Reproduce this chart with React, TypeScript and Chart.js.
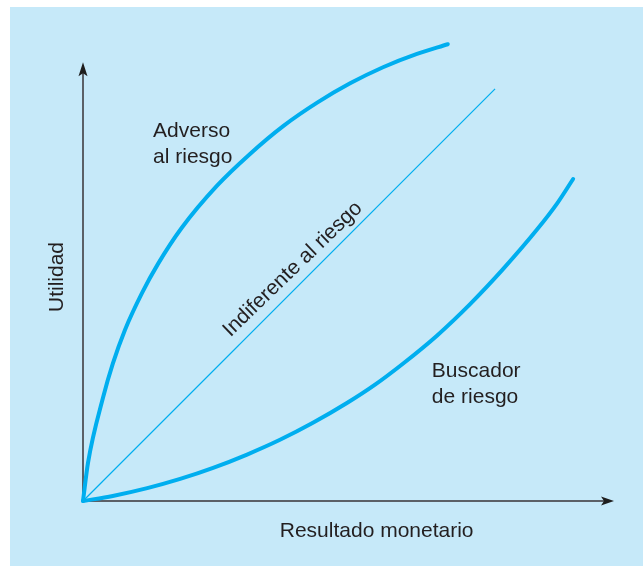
import React, { useEffect, useRef } from "react";
import { Chart, registerables } from "chart.js";

Chart.register(...registerables);

// Data (abstract units: x = monetary result 0..100, y = utility 0..100)
const adverseX = [0, 0.94, 3.8, 5.6, 7.9, 11.1, 14.1, 18.6, 25.2, 31.4, 37.7, 44.1, 50.3, 56.5, 62.9, 68.7];
const adverseY = [0, 8.3, 22.6, 29.8, 37.2, 45.2, 51.5, 59.4, 68.5, 75.4, 81.5, 86.6, 90.8, 94.3, 97.2, 99.3];

const neutralX = [0, 77.6];
const neutralY = [0, 89.6];

const seekerX = [0, 5.6, 12.1, 18.3, 24.5, 30.9, 37.1, 43.3, 49.7, 55.0, 60.3, 66.7, 72.9, 79.1, 85.5, 89.3, 92.3];
const seekerY = [0, 1.1, 2.8, 4.8, 7.2, 10.1, 13.3, 17.0, 21.3, 25.3, 29.9, 36.0, 42.8, 50.4, 59.0, 64.7, 70.0];

const xAxisTitle = "Resultado monetario";
const yAxisTitle = "Utilidad";
const adverseLabel = ["Adverso", "al riesgo"];
const seekerLabel = ["Buscador", "de riesgo"];
const neutralLabel = "Indiferente al riesgo";

const toPoints = (xs: number[], ys: number[]) => xs.map((x, i) => ({ x, y: ys[i] }));

const BG = "#c6e9f9";
const LINE = "#00aeef";
const AXIS = "#5b6067";
const TEXT = "#231f20";
const FONT = '21px "Liberation Sans", Arial, sans-serif';

const decorPlugin = {
  id: "decor",
  beforeDraw(chart: any) {
    const ctx = chart.ctx;
    ctx.save();
    ctx.fillStyle = "#ffffff";
    ctx.fillRect(0, 0, chart.width, chart.height);
    ctx.fillStyle = BG;
    ctx.fillRect(10, 7, chart.width - 10, chart.height - 7);
    ctx.restore();
  },
  beforeDatasetsDraw(chart: any) {
    const ctx = chart.ctx;
    const xs = chart.scales.x;
    const ys = chart.scales.y;
    const ox = xs.getPixelForValue(0);
    const oy = ys.getPixelForValue(0);
    const xTip = xs.getPixelForValue(100);
    const yTip = ys.getPixelForValue(95.4);
    ctx.save();
    ctx.strokeStyle = AXIS;
    ctx.lineWidth = 2;
    ctx.beginPath();
    ctx.moveTo(ox, oy);
    ctx.lineTo(xTip - 10, oy);
    ctx.moveTo(ox, oy);
    ctx.lineTo(ox, yTip + 10);
    ctx.stroke();
    ctx.fillStyle = "#1e1e1e";
    // x arrow
    ctx.beginPath();
    ctx.moveTo(xTip, oy);
    ctx.lineTo(xTip - 13, oy - 4.5);
    ctx.lineTo(xTip - 10, oy);
    ctx.lineTo(xTip - 13, oy + 4.5);
    ctx.closePath();
    ctx.fill();
    // y arrow
    ctx.beginPath();
    ctx.moveTo(ox, yTip);
    ctx.lineTo(ox - 4.5, yTip + 14);
    ctx.lineTo(ox, yTip + 11);
    ctx.lineTo(ox + 4.5, yTip + 14);
    ctx.closePath();
    ctx.fill();
    ctx.restore();
  },
  afterDraw(chart: any) {
    const ctx = chart.ctx;
    const xs = chart.scales.x;
    const ys = chart.scales.y;
    const px = (v: number) => xs.getPixelForValue(v);
    const py = (v: number) => ys.getPixelForValue(v);
    ctx.save();
    ctx.fillStyle = TEXT;
    ctx.font = FONT;
    ctx.textBaseline = "alphabetic";
    ctx.textAlign = "left";
    ctx.fillText(adverseLabel[0], px(13.2), py(79.1));
    ctx.fillText(adverseLabel[1], px(13.2), py(73.5));
    ctx.fillText(seekerLabel[0], px(65.7), py(27.0));
    ctx.fillText(seekerLabel[1], px(65.7), py(21.3));
    ctx.textAlign = "center";
    ctx.fillText(xAxisTitle, px(55.3), py(-7.8));
    // y title
    ctx.save();
    ctx.translate(px(0) - 20, py(48.7));
    ctx.rotate(-Math.PI / 2);
    ctx.fillText(yAxisTitle, 0, 0);
    ctx.restore();
    // diagonal label
    ctx.save();
    ctx.translate(px(39.5), py(50.4));
    ctx.rotate((-44 * Math.PI) / 180);
    ctx.textBaseline = "middle";
    ctx.fillText(neutralLabel, 0, 0);
    ctx.restore();
    ctx.restore();
  },
};

export default function App() {
  const ref = useRef<HTMLCanvasElement | null>(null);
  useEffect(() => {
    if (!ref.current) return;
    const chart = new Chart(ref.current, {
      type: "scatter",
      data: {
        datasets: [
          {
            data: toPoints(adverseX, adverseY),
            showLine: true,
            borderColor: LINE,
            borderWidth: 4,
            pointRadius: 0,
            cubicInterpolationMode: "monotone",
            borderCapStyle: "round",
          } as any,
          {
            data: toPoints(neutralX, neutralY),
            showLine: true,
            borderColor: LINE,
            borderWidth: 1.2,
            pointRadius: 0,
          } as any,
          {
            data: toPoints(seekerX, seekerY),
            showLine: true,
            borderColor: LINE,
            borderWidth: 4,
            pointRadius: 0,
            cubicInterpolationMode: "monotone",
            borderCapStyle: "round",
          } as any,
        ],
      },
      options: {
        animation: false,
        responsive: false,
        maintainAspectRatio: false,
        clip: false as any,
        layout: { padding: { left: 83, right: 29, top: 41, bottom: 65 } },
        plugins: { legend: { display: false }, tooltip: { enabled: false } },
        scales: {
          x: { type: "linear", min: 0, max: 100, display: false },
          y: { type: "linear", min: 0, max: 100, display: false },
        },
      },
      plugins: [decorPlugin],
    });
    return () => chart.destroy();
  }, []);
  return (
    <div style={{ position: "absolute", left: 0, top: 0, width: 643, height: 566 }}>
      <canvas ref={ref} width={643} height={566} style={{ display: "block" }} />
    </div>
  );
}
